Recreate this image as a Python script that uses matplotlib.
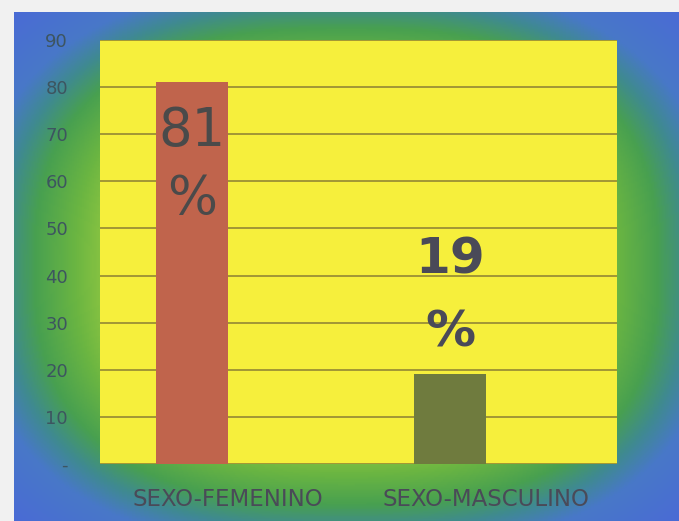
import matplotlib.pyplot as plt
from matplotlib.colors import LinearSegmentedColormap
from matplotlib.transforms import ScaledTranslation
import numpy as np

categorias = ["SEXO-FEMENINO", "SEXO-MASCULINO"]
valores = [81, 19]
etiquetas = ["81\n%", "19\n%"]
colores = ["#c0644c", "#6f7b3e"]
yticks = [0, 10, 20, 30, 40, 50, 60, 70, 80, 90]
ytick_labels = ["-", "10", "20", "30", "40", "50", "60", "70", "80", "90"]

W, H = 679, 521
fig = plt.figure(figsize=(W / 100, H / 100), dpi=100)
fig.patch.set_facecolor("#f1f1f1")

# Fondo con degradado (verde cerca del grafico, azul hacia los bordes)
bg = fig.add_axes([14 / W, 0, (679 - 14) / W, (521 - 12) / H])
yy, xx = np.mgrid[-1:1:300j, -1:1:400j]
r = (np.abs(xx) ** 2.6 + np.abs(yy) ** 2.6) ** (1 / 2.6)
rmax = 1.35
paradas = [(0.0, "#f2ee3a"), (0.55, "#e2e83c"), (0.68, "#9ccc40"),
           (0.82, "#6ab542"), (0.94, "#48a050"), (1.03, "#3f8a90"),
           (1.12, "#4878c8"), (1.35, "#4a68d8")]
cmap = LinearSegmentedColormap.from_list("fondo", [(p / rmax, c) for p, c in paradas])
bg.imshow(np.clip(r / rmax, 0, 1), cmap=cmap, aspect="auto", vmin=0, vmax=1)
bg.axis("off")

# Area de la grafica
ax = fig.add_axes([100 / W, (H - 464) / H, 517 / W, 424 / H])
ax.set_facecolor("#f6ef3c")
x = np.arange(len(categorias))
ax.bar(x, valores, width=0.28, color=colores, zorder=3)
ax.set_xlim(-0.357, 1.647)
ax.set_ylim(0, 90)
ax.set_yticks(yticks)
ax.set_yticklabels(ytick_labels, fontsize=13, color="#3d5560")
ax.yaxis.grid(True, color="#8a7e34", linewidth=1.1, zorder=1)
ax.tick_params(axis="y", length=0, pad=23)
ax.set_xticks(x)
ax.set_xticklabels(categorias, fontsize=16.5, color="#4a4a58")
ax.tick_params(axis="x", length=0, pad=17)
for lab in ax.get_xticklabels():
    lab.set_transform(lab.get_transform() + ScaledTranslation(0.36, 0, fig.dpi_scale_trans))
for s in ax.spines.values():
    s.set_visible(False)

# Etiquetas de porcentaje
ax.text(x[0], 63.5, etiquetas[0], ha="center", va="center", fontsize=38,
        color="#4a4a4a", linespacing=1.4, zorder=4)
ax.text(x[1], 35.6, etiquetas[1], ha="center", va="center", fontsize=36,
        fontweight="bold", color="#4a4a58", linespacing=1.65, zorder=4)

plt.savefig("out.png", dpi=100, facecolor=fig.get_facecolor())
